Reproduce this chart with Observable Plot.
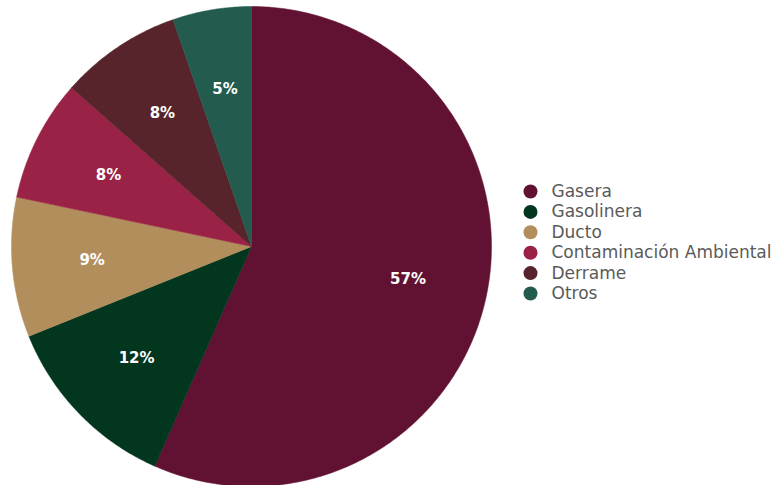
<!DOCTYPE html>
<html>
<head>
<meta charset="utf-8">
<script src="https://cdn.jsdelivr.net/npm/d3@7"></script>
<script src="https://cdn.jsdelivr.net/npm/@observablehq/plot@0.6"></script>
<style>
  html, body { margin: 0; padding: 0; background: #fff; }
</style>
</head>
<body>
<div id="chart"></div>
<script>
const categories = ["Gasera", "Gasolinera", "Ducto", "Contaminación Ambiental", "Derrame", "Otros"];
const values = [56.6, 12.3, 9.4, 8.2, 8.2, 5.3];
const labels = ["57%", "12%", "9%", "8%", "8%", "5%"];
const colors = ["#611232", "#03361f", "#b38e5d", "#9b2247", "#56242a", "#235b4e"];

const W = 771, H = 485;
const cx = 251, cy = 246, R = 240, rLabel = 160;

const pie = d3.pie().sort(null).value(d => d.value);
const arcs = pie(categories.map((c, i) => ({category: c, value: values[i], label: labels[i]})));

// polygon outlines of each slice (center + arc)
const slicePts = [];
for (const a of arcs) {
  slicePts.push({category: a.data.category, x: cx, y: cy});
  const n = Math.max(4, Math.ceil((a.endAngle - a.startAngle) / 0.01));
  for (let k = 0; k <= n; k++) {
    const t = a.startAngle + (a.endAngle - a.startAngle) * k / n;
    slicePts.push({category: a.data.category, x: cx + R * Math.sin(t), y: cy - R * Math.cos(t)});
  }
  slicePts.push({category: a.data.category, x: cx, y: cy});
}
const labelPts = arcs.map(a => {
  const m = (a.startAngle + a.endAngle) / 2;
  return {label: a.data.label, x: cx + rLabel * Math.sin(m), y: cy - rLabel * Math.cos(m)};
});
const legendPts = categories.map((c, i) => ({category: c, x: 530, y: 191 + i * 20.4}));

const chart = Plot.plot({
  width: W, height: H,
  margin: 0,
  x: {domain: [0, W], range: [0, W], axis: null},
  y: {domain: [0, H], range: [0, H], axis: null},
  color: {domain: categories, range: colors},
  marks: [
    Plot.line(slicePts, {x: "x", y: "y", z: "category", fill: "category", stroke: "category", strokeWidth: 0.5, curve: "linear"}),
    Plot.text(labelPts, {x: "x", y: "y", text: "label", fill: "white", fontSize: 15, fontWeight: "bold", fontFamily: "DejaVu Sans"}),
    Plot.dot(legendPts, {x: "x", y: "y", r: 7, fill: "category", stroke: null}),
    Plot.text(legendPts, {x: d => d.x + 21, y: "y", text: "category", textAnchor: "start", fill: "#5a5a5a", fontSize: 17, fontFamily: "DejaVu Sans"})
  ]
});
document.getElementById("chart").appendChild(chart);
</script>
</body>
</html>
